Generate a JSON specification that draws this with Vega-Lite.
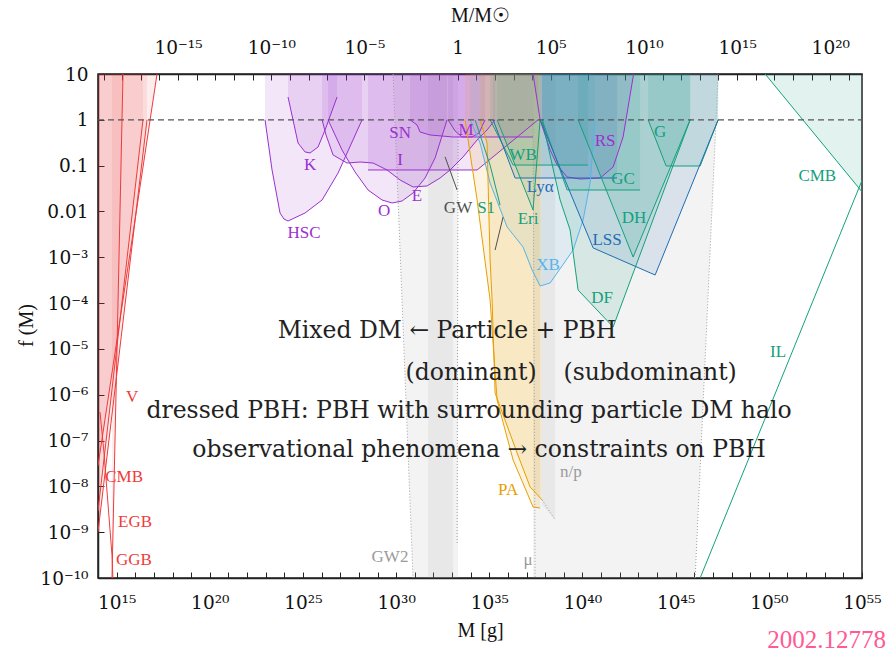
{
  "$schema": "https://vega.github.io/schema/vega-lite/v6.json",
  "width": 764,
  "height": 504,
  "autosize": {"type": "none"},
  "padding": {"left": 98, "top": 74, "right": 27, "bottom": 78},
  "background": "white",
  "config": {
    "font": "Liberation Serif",
    "view": {"stroke": "#222", "strokeWidth": 1.5},
    "axis": {
      "domainColor": "#222", "domainWidth": 1.5, "tickColor": "#222", "tickWidth": 1,
      "labelFont": "DejaVu Serif", "labelFontSize": 18.5, "labelColor": "#111",
      "titleFont": "Liberation Serif", "titleFontSize": 20, "titleFontWeight": "normal", "titleColor": "#111",
      "grid": false, "labelOverlap": false, "labelFlush": false
    }
  },
  "datasets": {
    "red": [
      {"g":"V","m":1e14,"f":2.82e-8},{"g":"V","m":1.47e17,"f":10},
      {"g":"CMBr","m":1e14,"f":2.88e-9},{"g":"CMBr","m":2.6e16,"f":1},
      {"g":"EGB","m":1e14,"f":1e-9},{"g":"EGB","m":4.27e16,"f":1},
      {"g":"GGB","m":5.64e14,"f":1e-10},{"g":"GGB","m":2.2e15,"f":10}
    ],
    "curves": [
      {"g":"HSC","m":9.2e22,"f":1},{"g":"HSC","m":2.19e23,"f":0.0804},{"g":"HSC","m":5.87e23,"f":0.00925},{"g":"HSC","m":9.55e23,"f":0.00684},{"g":"HSC","m":1.58e24,"f":0.00619},{"g":"HSC","m":1.29e25,"f":0.00925},{"g":"HSC","m":1.06e26,"f":0.0178},{"g":"HSC","m":7.64e26,"f":0.069},{"g":"HSC","m":1.48e28,"f":1},
      {"g":"K","m":1.58e24,"f":3.15},{"g":"K","m":5.43e24,"f":0.312},{"g":"K","m":1.29e25,"f":0.199},{"g":"K","m":2.4e25,"f":0.189},{"g":"K","m":6.44e25,"f":0.255},{"g":"K","m":1.53e26,"f":0.6},{"g":"K","m":6.75e26,"f":3.15},
      {"g":"O","m":2.22e26,"f":1},{"g":"O","m":1.25e27,"f":0.219},{"g":"O","m":6.24e27,"f":0.0726},{"g":"O","m":3.11e28,"f":0.0294},{"g":"O","m":1.75e29,"f":0.0178},{"g":"O","m":6.04e29,"f":0.0153},{"g":"O","m":2.08e30,"f":0.0169},{"g":"O","m":8.09e30,"f":0.0253},{"g":"O","m":3.56e31,"f":0.0537},{"g":"O","m":1.23e32,"f":0.147},{"g":"O","m":5.41e32,"f":1},
      {"g":"E","m":1.06e26,"f":1},{"g":"E","m":1.73e26,"f":0.467},{"g":"E","m":4.12e26,"f":0.171},{"g":"E","m":2.32e27,"f":0.114},{"g":"E","m":1.16e28,"f":0.12},{"g":"E","m":5.77e28,"f":0.114},{"g":"E","m":3.26e29,"f":0.0804},{"g":"E","m":1.63e30,"f":0.0486},{"g":"E","m":8.09e30,"f":0.0342},{"g":"E","m":4.57e31,"f":0.036},{"g":"E","m":2.28e32,"f":0.0537},{"g":"E","m":7.83e32,"f":0.0804},{"g":"E","m":3.91e33,"f":0.155},{"g":"E","m":2.21e34,"f":0.363},{"g":"E","m":7.59e34,"f":0.6},{"g":"E","m":2.04e35,"f":1},
      {"g":"I","m":3.11e28,"f":0.0804},{"g":"I","m":2.21e34,"f":0.0804},{"g":"I","m":4.15e37,"f":1},
      {"g":"SN","m":5.58e30,"f":1},{"g":"SN","m":1.33e31,"f":0.771},{"g":"SN","m":1.92e31,"f":0.542},{"g":"SN","m":6.62e31,"f":0.467},{"g":"SN","m":1.14e33,"f":0.422},{"g":"SN","m":2.23e37,"f":0.422},
      {"g":"M","m":6.12e32,"f":1},{"g":"M","m":1.46e33,"f":0.57},{"g":"M","m":3.46e33,"f":0.422},{"g":"M","m":1.19e34,"f":0.422},{"g":"M","m":2.82e34,"f":0.515},{"g":"M","m":5.93e34,"f":1},
      {"g":"RS","m":2.23e37,"f":10},{"g":"RS","m":3.66e37,"f":2.71},{"g":"RS","m":5.31e37,"f":1},{"g":"RS","m":1.83e38,"f":0.219},{"g":"RS","m":4.35e38,"f":0.103},{"g":"RS","m":1.5e39,"f":0.0565},{"g":"RS","m":7.46e39,"f":0.051},{"g":"RS","m":8.83e40,"f":0.0537},{"g":"RS","m":4.41e41,"f":0.0933},{"g":"RS","m":1.51e42,"f":0.422},{"g":"RS","m":5.21e42,"f":8.61},{"g":"RS","m":5.6e42,"f":10},
      {"g":"WB","m":1.1e35,"f":1},{"g":"WB","m":1.89e36,"f":0.103},{"g":"WB","m":2.0e40,"f":0.103},
      {"g":"Lya","m":1.59e35,"f":1},{"g":"Lya","m":2.42e36,"f":0.0537},{"g":"Lya","m":7.21e41,"f":0.0537},
      {"g":"Eri","m":2.61e35,"f":1},{"g":"Eri","m":2.23e37,"f":0.0108},{"g":"Eri","m":5.31e37,"f":1},
      {"g":"XB","m":9.29e33,"f":1},{"g":"XB","m":3.19e34,"f":0.312},{"g":"XB","m":1.1e35,"f":0.0418},{"g":"XB","m":9.0e35,"f":0.00458},{"g":"XB","m":6.5e36,"f":0.00167},{"g":"XB","m":1.98e37,"f":0.000527},{"g":"XB","m":5.31e37,"f":0.000236},{"g":"XB","m":1.83e38,"f":0.000275},{"g":"XB","m":4.35e38,"f":0.000454},{"g":"XB","m":3.14e39,"f":0.00144},{"g":"XB","m":1.08e40,"f":0.00652},{"g":"XB","m":2.56e40,"f":0.0418},{"g":"XB","m":4.76e40,"f":1},
      {"g":"GC","m":6.81e37,"f":1},{"g":"GC","m":1.5e39,"f":0.0294},{"g":"GC","m":1.24e43,"f":0.0294},
      {"g":"DH","m":5.82e39,"f":1},{"g":"DH","m":5.21e42,"f":0.00101},{"g":"DH","m":5.98e45,"f":1},
      {"g":"DF","m":6.81e37,"f":1},{"g":"DF","m":6.3e38,"f":0.0178},{"g":"DF","m":2.17e39,"f":0.00394},{"g":"DF","m":5.82e39,"f":0.000193},{"g":"DF","m":4.41e41,"f":3.01e-5},{"g":"DF","m":5.98e45,"f":1},
      {"g":"G","m":3.33e43,"f":1},{"g":"G","m":3.08e44,"f":0.0982},{"g":"G","m":2.06e46,"f":0.0982},{"g":"G","m":1.91e47,"f":1},
      {"g":"LSS","m":5.31e37,"f":1},{"g":"LSS","m":3.72e40,"f":0.0016},{"g":"LSS","m":7.91e43,"f":0.00041},{"g":"LSS","m":1.91e47,"f":1},
      {"g":"CMBg","m":6.35e49,"f":10},{"g":"CMBg","m":1.02e55,"f":0.0266},
      {"g":"PA1","m":5.01e33,"f":1},{"g":"PA1","m":2.21e34,"f":0.0178},{"g":"PA1","m":1.1e35,"f":0.000117},{"g":"PA1","m":2.61e35,"f":7.67e-7},{"g":"PA1","m":1.89e36,"f":3.77e-8},{"g":"PA1","m":2.23e37,"f":3.55e-9},{"g":"PA1","m":5.31e37,"f":3.37e-9},
      {"g":"PA2","m":3.19e34,"f":1},{"g":"PA2","m":7.59e34,"f":0.312},{"g":"PA2","m":1.1e35,"f":0.000873},{"g":"PA2","m":1.41e35,"f":0.000117},{"g":"PA2","m":2.04e35,"f":1.09e-6},{"g":"PA2","m":3.1e36,"f":5.36e-8},{"g":"PA2","m":1.55e37,"f":9.7e-9},{"g":"PA2","m":6.81e37,"f":5.05e-9}
    ],
    "lineonly": [
      {"g":"GGBc","m":1.28e14,"f":4.2e-7},{"g":"GGBc","m":2.1e14,"f":5.36e-8},{"g":"GGBc","m":5.64e14,"f":3.16e-10},{"g":"GGBc","m":6.3e14,"f":1e-10},
      {"g":"S1","m":1.72e34,"f":1},{"g":"S1","m":1.1e35,"f":0.103},{"g":"S1","m":3.78e35,"f":0.0138},
      {"g":"IL","m":2.06e46,"f":1e-10},{"g":"IL","m":1.02e55,"f":0.0486},
      {"g":"GWa","m":4.23e32,"f":0.155},{"g":"GWa","m":1.86e33,"f":0.0294},
      {"g":"GWb","m":2.04e35,"f":0.00144},{"g":"GWb","m":5.48e35,"f":0.00757}
    ],
    "grey": [
      {"g":"GW2","m":6.84e29,"f":10},{"g":"GW2","m":8.09e30,"f":1e-10},{"g":"GW2","m":2.11e33,"f":1e-10},
      {"g":"GW2b","m":5.18e31,"f":1e-10},{"g":"GW2b","m":1.14e33,"f":1e-10},
      {"g":"mu","m":2.23e37,"f":1e-10},{"g":"mu","m":1.11e46,"f":1e-10},{"g":"mu","m":1.91e47,"f":10},
      {"g":"np","m":6.81e37,"f":3.93e-9},{"g":"np","m":3.4e38,"f":1.85e-9}
    ],
    "dots": [
      {"g":"d1","m":6.84e29,"f":10},{"g":"d1","m":8.09e30,"f":1e-10},
      {"g":"d2","m":1.86e33,"f":5.81e-10},{"g":"d2","m":2.11e33,"f":1},
      {"g":"d3","m":2.23e37,"f":1},{"g":"d3","m":2.86e37,"f":1e-10},
      {"g":"d4","m":1.11e46,"f":1e-10},{"g":"d4","m":1.91e47,"f":10},
      {"g":"d5","m":6.81e37,"f":5.05e-9},{"g":"d5","m":3.4e38,"f":1.85e-9}
    ],
    "dash": [{"m":1e14,"f":1},{"m":1e55,"f":1}],
    "labels": [
      {"t":"V","g":"V","m":6.76e15,"f":8.91e-7},
      {"t":"CMB","g":"CMBr","m":2.51e15,"f":1.58e-8},
      {"t":"EGB","g":"EGB","m":9.77e15,"f":1.66e-9},
      {"t":"GGB","g":"GGB","m":8.51e15,"f":2.45e-10},
      {"t":"HSC","g":"HSC","m":1.15e25,"f":0.00339},
      {"t":"K","g":"K","m":2.4e25,"f":0.102},
      {"t":"O","g":"O","m":2.24e29,"f":0.0102},
      {"t":"E","g":"E","m":1.32e31,"f":0.0219},
      {"t":"I","g":"I","m":1.62e30,"f":0.132},
      {"t":"SN","g":"SN","m":1.62e30,"f":0.513},
      {"t":"M","g":"M","m":5.62e33,"f":0.603},
      {"t":"RS","g":"RS","m":1.62e41,"f":0.347},
      {"t":"WB","g":"WB","m":6.46e36,"f":0.17},
      {"t":"S1","g":"S1","m":6.76e34,"f":0.012},
      {"t":"Eri","g":"Eri","m":1.2e37,"f":0.00692},
      {"t":"GC","g":"GC","m":1.51e42,"f":0.0513},
      {"t":"G","g":"G","m":1.48e44,"f":0.537},
      {"t":"DH","g":"DH","m":5.89e42,"f":0.00724},
      {"t":"DF","g":"DF","m":1.12e41,"f":0.000129},
      {"t":"CMB","g":"CMBg","m":3.98e52,"f":0.0589},
      {"t":"IL","g":"IL","m":3.16e50,"f":8.51e-6},
      {"t":"Lyα","g":"Lya","m":5.37e37,"f":0.0339},
      {"t":"LSS","g":"LSS","m":2.09e41,"f":0.0024},
      {"t":"XB","g":"XB","m":1.41e38,"f":0.000676},
      {"t":"GW","g":"GWa","m":2.09e33,"f":0.012},
      {"t":"GW2","g":"GW2","m":4.68e29,"f":2.88e-10},
      {"t":"μ","g":"mu","m":1.2e37,"f":2.45e-10},
      {"t":"n/p","g":"np","m":2.4e39,"f":2.1e-8},
      {"t":"PA","g":"PA1","m":1.02e36,"f":8.32e-9}
    ],
    "notes": [
      {"t":"Mixed DM ← Particle + PBH","m":5.37e32,"f":2.45e-5},
      {"t":"(dominant)","m":1.05e34,"f":2.95e-6},
      {"t":"(subdominant)","m":4.27e43,"f":2.95e-6},
      {"t":"dressed PBH: PBH with surrounding particle DM halo","m":8.13e33,"f":4.47e-7},
      {"t":"observational phenomena → constraints on PBH","m":2.82e34,"f":6.17e-8}
    ],
    "stamp": [{"t":"2002.12778","m":8.13e49,"f":4.47e-12}]
  },
  "layer": [
    {
      "encoding": {
        "x": {"field":"m","type":"quantitative",
          "scale":{"type":"log","domain":[1e14,1e55],"nice":false},
          "axis":{"orient":"bottom","title":"M [g]","titleBaseline":"middle","titleY":52,
            "values":[1e14,1e15,1e16,1e17,1e18,1e19,1e20,1e21,1e22,1e23,1e24,1e25,1e26,1e27,1e28,1e29,1e30,1e31,1e32,1e33,1e34,1e35,1e36,1e37,1e38,1e39,1e40,1e41,1e42,1e43,1e44,1e45,1e46,1e47,1e48,1e49,1e50,1e51,1e52,1e53,1e54,1e55],
            "tickSize":-6,"labelPadding":21,
            "labelExpr":"round(log(datum.value)/LN10) % 5 == 0 ? '10' + ['⁰','¹','²','³','⁴','⁵','⁶','⁷','⁸','⁹'][floor(round(log(datum.value)/LN10)/10)] + ['⁰','¹','²','³','⁴','⁵','⁶','⁷','⁸','⁹'][round(log(datum.value)/LN10) % 10] : ''"}},
        "y": {"field":"f","type":"quantitative",
          "scale":{"type":"log","domain":[1e-10,10],"nice":false},
          "axis":{"title":"f (M)","titleBaseline":"middle","titleX":-72,"titleY":251,"titleAngle":-90,
            "values":[10,1,0.1,0.01,0.001,1e-4,1e-5,1e-6,1e-7,1e-8,1e-9,1e-10],
            "tickSize":-6,"labelPadding":16,
            "labelExpr":"datum.value > 5 ? '10' : datum.value > 0.5 ? '1' : datum.value > 0.05 ? '0.1' : datum.value > 0.005 ? '0.01' : round(-log(datum.value)/LN10) >= 10 ? '10⁻¹⁰' : '10⁻' + ['⁰','¹','²','³','⁴','⁵','⁶','⁷','⁸','⁹'][round(-log(datum.value)/LN10)]"}}
      },
      "layer": [
        {"data":{"name":"grey"},"mark":{"type":"area","fillOpacity":0.12,"clip":true},
         "encoding":{"y2":{"datum":10},"color":{"field":"g","type":"nominal","legend":null,"scale":{"domain":["V","CMBr","EGB","GGB","GGBc","HSC","K","O","E","I","SN","M","RS","WB","S1","Eri","GC","DH","DF","G","CMBg","IL","Lya","LSS","XB","PA1","PA2","GWa","GWb","GW2","GW2b","mu","np","d1","d2","d3","d4","d5"],"range":["#ee3b3b","#ee3b3b","#ee3b3b","#ee3b3b","#ee3b3b","#9b30d0","#9b30d0","#9b30d0","#9b30d0","#9b30d0","#9b30d0","#9b30d0","#9b30d0","#14a07c","#14a07c","#14a07c","#14a07c","#14a07c","#14a07c","#14a07c","#14a07c","#14a07c","#1f6db4","#1f6db4","#56b4e9","#e89f00","#e89f00","#505050","#505050","#9a9a9a","#9a9a9a","#9a9a9a","#9a9a9a","#a0a0a0","#a0a0a0","#a0a0a0","#a0a0a0","#a0a0a0"]}}}},
        {"data":{"name":"red"},"mark":{"type":"area","fillOpacity":0.09,"clip":true},
         "encoding":{"y2":{"datum":10},"color":{"field":"g","type":"nominal","legend":null}}},
        {"data":{"name":"curves"},"mark":{"type":"area","fillOpacity":0.12,"clip":true},
         "encoding":{"y2":{"datum":10},"color":{"field":"g","type":"nominal","legend":null}}},
        {"data":{"name":"dots"},"mark":{"type":"line","strokeDash":[1,2],"strokeWidth":1,"clip":true},
         "encoding":{"color":{"field":"g","type":"nominal","legend":null}}},
        {"data":{"name":"red"},"mark":{"type":"line","strokeWidth":1,"clip":true},
         "encoding":{"color":{"field":"g","type":"nominal","legend":null}}},
        {"data":{"name":"curves"},"mark":{"type":"line","strokeWidth":1,"clip":true},
         "encoding":{"color":{"field":"g","type":"nominal","legend":null}}},
        {"data":{"name":"lineonly"},"mark":{"type":"line","strokeWidth":1,"clip":true},
         "encoding":{"color":{"field":"g","type":"nominal","legend":null}}},
        {"data":{"name":"dash"},"mark":{"type":"line","strokeDash":[6,4],"color":"#555","strokeWidth":1.2}},
        {"data":{"name":"labels"},"mark":{"type":"text","fontSize":17,"font":"Liberation Serif"},
         "encoding":{"text":{"field":"t"},"color":{"field":"g","type":"nominal","legend":null}}},
        {"data":{"name":"notes"},"mark":{"type":"text","fontSize":23.5,"font":"DejaVu Serif","color":"#222"},
         "encoding":{"text":{"field":"t"}}},
        {"data":{"name":"stamp"},"mark":{"type":"text","fontSize":25,"align":"left","color":"#ff5a92","font":"Liberation Serif"},
         "encoding":{"text":{"field":"t"}}}
      ]
    },
    {
      "data": {"values":[{"msun":5.03e-20},{"msun":5.03e21}]},
      "mark": {"type":"point","opacity":0},
      "encoding": {
        "x": {"field":"msun","type":"quantitative",
          "scale":{"type":"log","domain":[5.03e-20,5.03e21],"nice":false},
          "axis":{"orient":"top","title":"M/M☉","titleBaseline":"middle","titleY":-59,
            "values":[1e-19,1e-18,1e-17,1e-16,1e-15,1e-14,1e-13,1e-12,1e-11,1e-10,1e-9,1e-8,1e-7,1e-6,1e-5,1e-4,1e-3,1e-2,1e-1,1,10,100,1e3,1e4,1e5,1e6,1e7,1e8,1e9,1e10,1e11,1e12,1e13,1e14,1e15,1e16,1e17,1e18,1e19,1e20,1e21],
            "tickSize":-6,"labelPadding":23,
            "labelExpr":"round(log(datum.value)/LN10) % 5 != 0 ? '' : (datum.value > 0.5 && datum.value < 2) ? '1' : '10' + (datum.value < 1 ? '⁻' : '') + (abs(round(log(datum.value)/LN10)) >= 10 ? ['⁰','¹','²','³','⁴','⁵','⁶','⁷','⁸','⁹'][floor(abs(round(log(datum.value)/LN10))/10)] : '') + ['⁰','¹','²','³','⁴','⁵','⁶','⁷','⁸','⁹'][abs(round(log(datum.value)/LN10)) % 10]"}}
      }
    }
  ],
  "resolve": {"scale": {"x": "independent"}}
}
